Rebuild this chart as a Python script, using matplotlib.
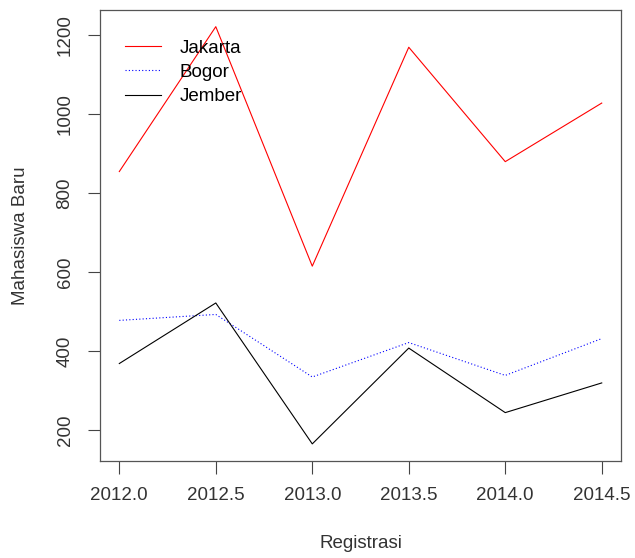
import matplotlib
matplotlib.use("Agg")
import matplotlib.pyplot as plt
from matplotlib.ticker import FormatStrFormatter

plt.rcParams['font.family'] = ['Liberation Sans', 'DejaVu Sans']

# data
tahun = [2012.0, 2012.5, 2013.0, 2013.5, 2014.0, 2014.5]
jakarta = [854, 1220, 615, 1168, 879, 1027]
bogor = [478, 493, 335, 422, 339, 432]
jember = [369, 522, 166, 408, 245, 320]

fig = plt.figure(figsize=(6.35, 5.58), dpi=100)
ax = fig.add_axes([0.1575, 0.174, 0.8205, 0.808])

ax.plot(tahun, jakarta, color='#ff0000', lw=0.8, label='Jakarta')
ax.plot(tahun, bogor, color='#0000ff', lw=0.8, linestyle=(0, (1, 2)), label='Bogor')
ax.plot(tahun, jember, color='#000000', lw=0.8, label='Jember')

# R style 4% padding
ax.set_xlim(2011.9, 2014.6)
ax.set_ylim(123, 1262)

ax.set_xticks(tahun)
ax.xaxis.set_major_formatter(FormatStrFormatter('%.1f'))
ax.set_yticks([200, 400, 600, 800, 1000, 1200])
for lab in ax.get_yticklabels():
    lab.set_rotation(90)
    lab.set_va('center')

fs = 13.5
ax.tick_params(direction='out', length=9, width=0.8, colors='#444444',
               labelsize=fs, labelcolor='#333333', pad=10)
for s in ax.spines.values():
    s.set_color('#555555')
    s.set_linewidth(0.9)

ax.set_xlabel('Registrasi', fontsize=fs, color='#333333', labelpad=22)
ax.set_ylabel('Mahasiswa Baru', fontsize=fs, color='#333333', labelpad=20)

ax.legend(loc='upper left', bbox_to_anchor=(0.0, 0.99), frameon=False,
          fontsize=fs, handlelength=1.9, handletextpad=1.0,
          labelspacing=0.37, borderpad=0.95, borderaxespad=0.4)

plt.savefig('out.png', dpi=100)
